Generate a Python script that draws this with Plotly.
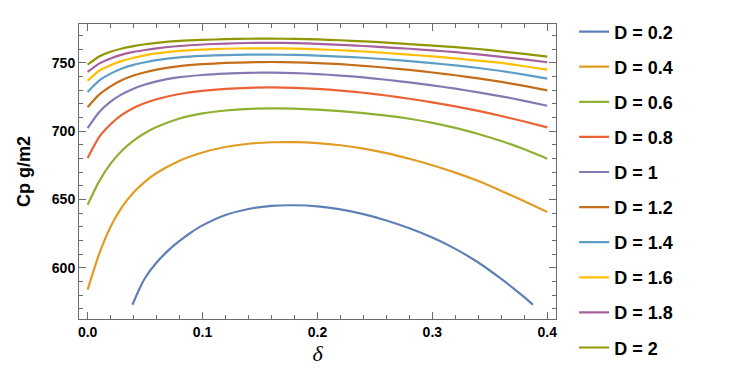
import plotly.graph_objects as go

# delta grid shared by D = 0.4 ... 2
delta = [0, 0.01, 0.02, 0.03, 0.04, 0.05, 0.06, 0.08, 0.10, 0.12, 0.14, 0.16, 0.18, 0.20,
         0.22, 0.24, 0.26, 0.28, 0.30, 0.32, 0.34, 0.36, 0.38, 0.40]

# D = 0.2 has its own (shorter) delta range
delta_02 = [0.039, 0.045, 0.05, 0.06, 0.07, 0.08, 0.09, 0.10, 0.12, 0.14, 0.16, 0.18, 0.20,
            0.22, 0.24, 0.26, 0.28, 0.30, 0.32, 0.34, 0.36, 0.37, 0.38, 0.3876]
cp_D02 = [572.9, 584.5, 592.5, 603.8, 612.5, 619.6, 625.8, 631.0, 638.6, 643.0, 645.3, 645.7, 644.9,
          642.7, 639.2, 634.6, 628.9, 622.1, 613.8, 603.8, 591.8, 585.3, 578.5, 572.9]

cp_D04 = [583.9, 610.0, 630.0, 644.5, 655.0, 663.0, 669.3, 678.3, 684.3, 688.3, 690.7, 691.8, 691.9, 691.2,
          689.6, 687.1, 683.8, 679.7, 675.0, 669.6, 663.4, 656.2, 648.6, 640.8]
cp_D06 = [646.1, 663.2, 676.2, 685.8, 693.0, 698.6, 702.9, 709.2, 712.9, 715.0, 716.2, 716.6, 716.4, 715.6,
          714.5, 713.1, 711.3, 709.0, 706.0, 702.3, 697.8, 692.7, 686.7, 679.8]
cp_D08 = [680.3, 695.6, 705.0, 712.0, 716.9, 720.5, 723.3, 727.1, 729.4, 730.8, 731.6, 731.9, 731.6, 730.8,
          729.6, 728.0, 726.0, 723.6, 721.0, 718.0, 714.7, 711.0, 707.0, 702.7]
cp_D10 = [702.2, 713.8, 721.5, 727.0, 731.0, 734.0, 736.3, 739.4, 741.0, 742.0, 742.6, 742.7, 742.4, 741.7,
          740.6, 739.2, 737.5, 735.6, 733.4, 731.0, 728.3, 725.4, 722.1, 718.5]
cp_D12 = [717.4, 726.6, 732.7, 737.3, 740.6, 743.0, 744.9, 747.5, 748.9, 749.8, 750.3, 750.5, 750.3, 749.7,
          748.9, 747.7, 746.3, 744.7, 742.8, 740.8, 738.5, 735.9, 733.0, 729.8]
cp_D14 = [728.6, 736.9, 742.0, 745.8, 748.4, 750.3, 751.9, 753.9, 755.0, 755.6, 755.9, 755.9, 755.7, 755.2,
          754.5, 753.6, 752.5, 751.2, 749.7, 748.0, 746.1, 743.9, 741.3, 738.3]
cp_D16 = [736.8, 744.1, 748.2, 751.3, 753.6, 755.4, 756.8, 758.6, 759.6, 760.2, 760.5, 760.5, 760.3, 759.8,
          759.1, 758.2, 757.1, 755.9, 754.6, 753.1, 751.5, 749.8, 747.4, 744.9]
cp_D18 = [743.2, 749.3, 753.1, 755.9, 757.9, 759.3, 760.5, 762.2, 763.3, 764.0, 764.4, 764.5, 764.3, 763.8,
          763.1, 762.2, 761.2, 760.2, 759.0, 757.7, 756.1, 754.3, 752.4, 750.3]
cp_D20 = [748.5, 754.5, 758.0, 760.4, 762.1, 763.5, 764.5, 765.9, 766.7, 767.2, 767.5, 767.6, 767.4, 767.0,
          766.4, 765.6, 764.7, 763.6, 762.5, 761.4, 760.0, 758.3, 756.4, 754.4]

labels = ["D = 0.2", "D = 0.4", "D = 0.6", "D = 0.8", "D = 1", "D = 1.2", "D = 1.4", "D = 1.6", "D = 1.8", "D = 2"]
colors = ["#5E81B5", "#E19C24", "#8FB032", "#EB6235", "#8778B3", "#C56E1A", "#5D9EC7", "#FFBF00", "#A5609D", "#929600"]

series = [(delta_02, cp_D02), (delta, cp_D04), (delta, cp_D06), (delta, cp_D08), (delta, cp_D10),
          (delta, cp_D12), (delta, cp_D14), (delta, cp_D16), (delta, cp_D18), (delta, cp_D20)]

fig = go.Figure()
for i, ((xs, ys), name, col) in enumerate(zip(series, labels, colors)):
    fig.add_trace(go.Scatter(x=xs, y=ys, mode="lines", name=name, legendgroup=f"g{i}",
                             legend="legend" if i < 5 else "legend2",
                             line=dict(color=col, width=2.2, shape="spline", smoothing=0.6)))

frame = "#6b6b6b"
tickfont = dict(family="Liberation Sans", size=14, color="black", weight="bold")
legfont = dict(family="Liberation Sans", size=18, color="black", weight="bold")

fig.update_layout(
    width=735, height=379,
    margin=dict(l=71, r=187, t=16, b=68, autoexpand=False),
    paper_bgcolor="white", plot_bgcolor="white",
    font=dict(family="Liberation Sans", color="black"),
    legend=dict(x=1.038, xanchor="left", y=1.036, yanchor="top",
                font=legfont, tracegroupgap=8.7, traceorder="grouped", bgcolor="rgba(0,0,0,0)"),
    legend2=dict(x=1.038, xanchor="left", y=0.441, yanchor="top",
                 font=legfont, tracegroupgap=8.7, traceorder="grouped", bgcolor="rgba(0,0,0,0)"),
    xaxis=dict(range=[-0.0075, 0.4076], showgrid=False, zeroline=False,
               showline=True, linecolor=frame, linewidth=1, mirror="ticks",
               ticks="inside", ticklen=7, tickcolor=frame, tickwidth=1,
               tickvals=[0, 0.1, 0.2, 0.3, 0.4], ticktext=["0.0", "0.1", "0.2", "0.3", "0.4"],
               tickfont=tickfont,
               minor=dict(dtick=0.02, tick0=0, ticks="inside", ticklen=4, tickcolor=frame, showgrid=False),
               title=dict(text="<i>δ</i>", font=dict(family="Liberation Serif", size=22, color="black"), standoff=6)),
    yaxis=dict(range=[562.5, 778.3], showgrid=False, zeroline=False,
               showline=True, linecolor=frame, linewidth=1, mirror="ticks",
               ticks="inside", ticklen=7, tickcolor=frame, tickwidth=1,
               tickvals=[600, 650, 700, 750], tickfont=tickfont,
               minor=dict(dtick=10, tick0=600, ticks="inside", ticklen=4, tickcolor=frame, showgrid=False),
               title=dict(text="Cp g/m2", font=dict(family="Liberation Sans", size=18, color="black", weight="bold"), standoff=16)),
)

fig.write_html("out.html")
